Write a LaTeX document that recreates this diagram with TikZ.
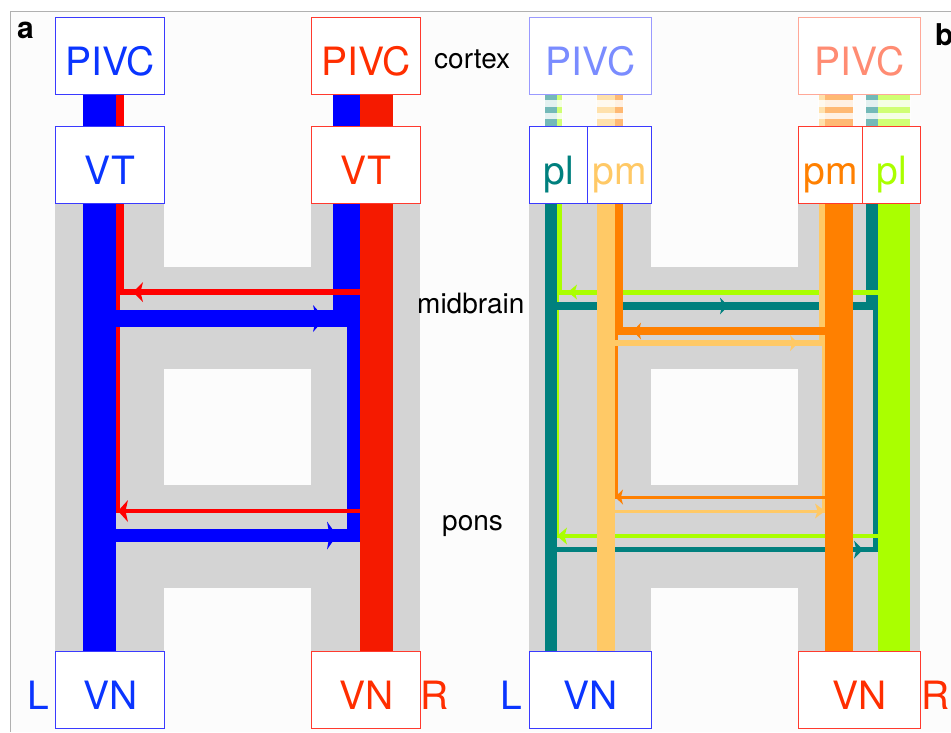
\documentclass[tikz,border=0pt]{standalone}
\usepackage{fontspec}
\setmainfont{TeX Gyre Heros}
\definecolor{gbg}{HTML}{FCFCFC}
\definecolor{framec}{HTML}{B0B0B0}
\definecolor{hgray}{HTML}{D4D4D4}
\definecolor{bblue}{HTML}{0000FF}
\definecolor{rcol}{HTML}{F51A00}
\definecolor{rthin}{HTML}{FF0000}
\definecolor{tblue}{HTML}{0A35FF}
\definecolor{tred}{HTML}{FF2E00}
\definecolor{bxblue}{HTML}{3A3AFF}
\definecolor{bxred}{HTML}{FF3A2E}
\definecolor{lblue}{HTML}{7A8CFF}
\definecolor{lbluebx}{HTML}{9A9AFF}
\definecolor{salmon}{HTML}{FF8C73}
\definecolor{salmonbx}{HTML}{FFA898}
\definecolor{cteal}{HTML}{00807E}
\definecolor{clime}{HTML}{AAFF00}
\definecolor{corange}{HTML}{FF8000}
\definecolor{clorange}{HTML}{FFC966}
% arrow head: colour, tip x, y, direction (1 right / -1 left), length, half height
\newcommand{\ahead}[6]{%
  \fill[#1] (#2,#3) -- ({#2-(#4)*(#5)},{#3-(#6)}) -- ({#2-0.75*(#4)*(#5)},#3)
    -- ({#2-(#4)*(#5)},{#3+(#6)}) -- cycle;}
\begin{document}
\begin{tikzpicture}[x=1pt,y=-1pt,
  box/.style={draw, fill=white, line width=1.2pt, inner sep=0pt,
    text height=58pt, text depth=19pt, anchor=north west, align=center,
    font=\fontsize{39}{39}\selectfont},
  lbl/.style={inner sep=0pt, anchor=base west, font=\fontsize{28}{28}\selectfont},
  side/.style={inner sep=0pt, anchor=base west, font=\fontsize{39}{39}\selectfont},
  panel/.style={inner sep=0pt, anchor=base west, font=\bfseries\fontsize{30}{30}\selectfont}]
\useasboundingbox (0,0) rectangle (951,732);
\fill[white] (0,0) rectangle (951,732);
\fill[gbg] (10.5,11.5) rectangle (951,732);
\draw[framec, line width=1pt] (10.5,732) -- (10.5,11.5) -- (951,11.5);

% ---------- panel a : grey H ----------
\fill[hgray] (55,203) rectangle (164,651);
\fill[hgray] (311,203) rectangle (420,651);
\fill[hgray] (164,267) rectangle (311,369);
\fill[hgray] (164,485) rectangle (311,588);
% verticals
\fill[bblue] (83,94) rectangle (116,651);
\fill[rthin] (116,94) rectangle (124,295);
\fill[rthin] (116,292) rectangle (119.5,513);
\fill[bblue] (333,94) rectangle (360,327);
\fill[bblue] (347,320) rectangle (360,542);
\fill[rcol] (360,94) rectangle (393,651);
% horizontals
\fill[bblue] (116,310) rectangle (360,327);
\ahead{bblue}{325}{318.5}{1}{12}{13.5}
\fill[bblue] (116,529) rectangle (360,542);
\ahead{bblue}{337}{535.5}{1}{10}{14}
\fill[rthin] (116,289) rectangle (360,295);
\ahead{rthin}{133}{292}{-1}{10}{10}
\fill[rthin] (116,509) rectangle (360,513);
\ahead{rthin}{118}{511}{-1}{10}{11}

% ---------- panel b : grey H ----------
\fill[hgray] (529,203) rectangle (651,651);
\fill[hgray] (798,203) rectangle (920,651);
\fill[hgray] (651,267) rectangle (798,369);
\fill[hgray] (651,485) rectangle (798,588);
% pl verticals
\fill[cteal] (545,94) rectangle (557,651);
\fill[clime] (557,94) rectangle (562,294.5);
\fill[clime] (557,292) rectangle (559,538);
\fill[cteal] (866,94) rectangle (878,310);
\fill[cteal] (873,306) rectangle (878,552);
\fill[clime] (878,94) rectangle (910,651);
% pl horizontals
\fill[clime] (557,289.5) rectangle (878,294.5);
\ahead{clime}{568}{292}{-1}{9}{7.5}
\fill[cteal] (557,302) rectangle (878,310);
\ahead{cteal}{728}{306}{1}{8}{8.5}
\fill[clime] (557,534) rectangle (878,538);
\ahead{clime}{557}{536}{-1}{10}{8.5}
\fill[cteal] (557,547) rectangle (878,552);
\ahead{cteal}{863}{549.5}{1}{9}{9}
% pm verticals
\fill[clorange] (597,94) rectangle (615,651);
\fill[corange] (615,94) rectangle (623,335);
\fill[corange] (615,331) rectangle (617.5,499);
\fill[clorange] (819,94) rectangle (825,346);
\fill[clorange] (822,343) rectangle (825,512.5);
\fill[corange] (825,94) rectangle (853,651);
% pm horizontals
\fill[corange] (615,327) rectangle (825,335);
\ahead{corange}{633}{331}{-1}{8}{8.5}
\fill[clorange] (615,340) rectangle (825,346);
\ahead{clorange}{798}{343}{1}{8}{8}
\fill[corange] (615,495.5) rectangle (825,498.5);
\ahead{corange}{615}{497}{-1}{8}{7.5}
\fill[clorange] (615,509.5) rectangle (825,512.5);
\ahead{clorange}{825}{511}{1}{10}{7.5}
% faded cortical projections
\foreach \xa/\xb in {544/563, 596/624, 818/854, 865/911}{
  \fill[white, opacity=0.45] (\xa,94) rectangle (\xb,126);
  \fill[white, opacity=0.8] (\xa,100) rectangle (\xb,107);
  \fill[white, opacity=0.8] (\xa,113) rectangle (\xb,119);
}

% ---------- boxes panel a ----------
\node[box, draw=bxblue, text=tblue, minimum width=109pt] (pivcLa) at (55,17) {PIVC};
\node[box, draw=bxblue, text=tblue, minimum width=109pt] (vtL) at (55,126) {VT};
\node[box, draw=bxblue, text=tblue, minimum width=109pt] (vnLa) at (55,651) {VN};
\node[box, draw=bxred, text=tred, minimum width=109pt] (pivcRa) at (311,17) {PIVC};
\node[box, draw=bxred, text=tred, minimum width=109pt] (vtR) at (311,126) {VT};
\node[box, draw=bxred, text=tred, minimum width=109pt] (vnRa) at (311,651) {VN};
% ---------- boxes panel b ----------
\node[box, draw=lbluebx, text=lblue, minimum width=122pt] (pivcLb) at (529,17) {PIVC};
\node[box, draw=bxblue, text=cteal, minimum width=58pt] (plL) at (529,126) {pl};
\node[box, draw=bxblue, text=clorange, minimum width=64pt] (pmL) at (587,126) {pm};
\node[box, draw=bxblue, text=tblue, minimum width=122pt] (vnLb) at (529,651) {VN};
\node[box, draw=salmonbx, text=salmon, minimum width=122pt] (pivcRb) at (798,17) {PIVC};
\node[box, draw=bxred, text=corange, minimum width=64pt] (pmR) at (798,126) {pm};
\node[box, draw=bxred, text=clime, minimum width=58pt] (plR) at (862,126) {pl};
\node[box, draw=bxred, text=tred, minimum width=122pt] (vnRb) at (798,651) {VN};

% ---------- labels ----------
\node[lbl] (cortex) at (434,68) {cortex};
\node[lbl] (midbrain) at (417,313) {midbrain};
\node[lbl] (pons) at (442,530) {pons};
\node[side, text=tblue] (La) at (27,709) {L};
\node[side, text=tred] (Ra) at (420,709) {R};
\node[side, text=tblue] (Lb) at (500,709) {L};
\node[side, text=tred] (Rb) at (921,709) {R};
\node[panel] (pa) at (17,38) {a};
\node[panel] (pb) at (935,45) {b};
\end{tikzpicture}
\end{document}
